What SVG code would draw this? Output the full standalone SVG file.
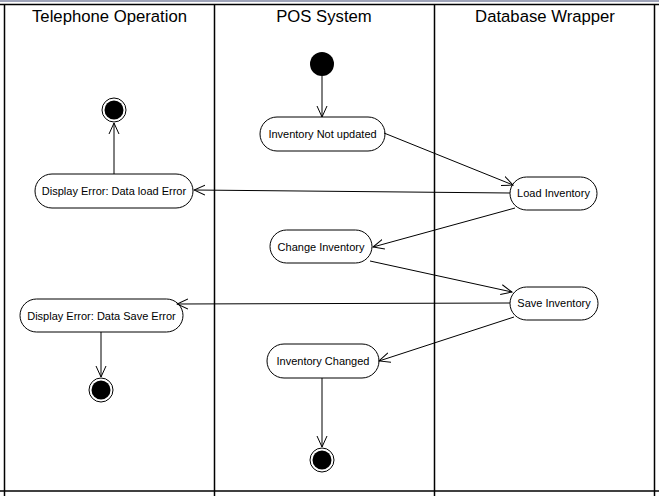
<svg xmlns="http://www.w3.org/2000/svg" width="659" height="496" viewBox="0 0 659 496">
<defs>
<marker id="arr" viewBox="0 0 12 12" refX="11" refY="6" markerWidth="12" markerHeight="12" markerUnits="userSpaceOnUse" orient="auto">
<path d="M0,1 L11,6 L0,11" fill="none" stroke="#000" stroke-width="1"/>
</marker>
<style>
.lane{stroke:#000;stroke-width:1.5;fill:none}
.hdr{font-family:"Liberation Sans",Arial,sans-serif;font-size:16.7px;fill:#000;text-anchor:middle}
.node rect{fill:#fff;stroke:#000;stroke-width:1}
.node text{font-family:"Liberation Sans",Arial,sans-serif;font-size:11px;fill:#000;text-anchor:middle}
.conn line{stroke:#000;stroke-width:1;marker-end:url(#arr)}
.end .o{fill:#fff;stroke:#000;stroke-width:1}
</style>
</defs>
<rect x="0" y="0" width="659" height="496" fill="#fff"/>
<rect x="0" y="0" width="659" height="2" fill="#9ea3b8"/>
<g id="lanes">
<line class="lane" x1="0" y1="4.5" x2="659" y2="4.5"/>
<line class="lane" x1="0" y1="491" x2="659" y2="491"/>
<line class="lane" x1="4.5" y1="4" x2="4.5" y2="496"/>
<line class="lane" x1="214.5" y1="4" x2="214.5" y2="496"/>
<line class="lane" x1="434.5" y1="4" x2="434.5" y2="496"/>
<line class="lane" x1="654.5" y1="4" x2="654.5" y2="496"/>
<text class="hdr" x="109.5" y="22">Telephone Operation</text>
<text class="hdr" x="324" y="22">POS System</text>
<text class="hdr" x="545" y="22">Database Wrapper</text>
</g>
<g id="start">
<circle cx="322" cy="64" r="12" fill="#000"/>
</g>
<g id="n_notupdated" class="node">
<rect x="260" y="117" width="125" height="34" rx="17"/>
<text x="322.5" y="138">Inventory Not updated</text>
</g>
<g id="n_load" class="node">
<rect x="510" y="177" width="87" height="33" rx="16.5"/>
<text x="553.5" y="197">Load Inventory</text>
</g>
<g id="n_loaderr" class="node">
<rect x="35" y="174" width="158" height="34" rx="17"/>
<text x="114" y="195">Display Error: Data load Error</text>
</g>
<g id="end1" class="end">
<circle class="o" cx="114" cy="110" r="12"/>
<circle cx="114" cy="110" r="9.5" fill="#000"/>
</g>
<g id="n_change" class="node">
<rect x="270" y="230" width="102" height="33" rx="16.5"/>
<text x="321" y="251">Change Inventory</text>
</g>
<g id="n_save" class="node">
<rect x="510" y="287" width="88" height="33" rx="16.5"/>
<text x="554" y="307">Save Inventory</text>
</g>
<g id="n_saveerr" class="node">
<rect x="20" y="299" width="163" height="33" rx="16.5"/>
<text x="101.5" y="320">Display Error: Data Save Error</text>
</g>
<g id="end2" class="end">
<circle class="o" cx="101" cy="390" r="12"/>
<circle cx="101" cy="390" r="9.5" fill="#000"/>
</g>
<g id="n_changed" class="node">
<rect x="267" y="344" width="112" height="34" rx="17"/>
<text x="323" y="365">Inventory Changed</text>
</g>
<g id="end3" class="end">
<circle class="o" cx="322" cy="460" r="12"/>
<circle cx="322" cy="460" r="9.5" fill="#000"/>
</g>
<g id="connectors" class="conn">
<line x1="322" y1="76" x2="322" y2="117"/>
<line x1="384" y1="133" x2="513" y2="185"/>
<line x1="510" y1="193" x2="194" y2="190"/>
<line x1="114" y1="174" x2="114" y2="123"/>
<line x1="515" y1="208" x2="373" y2="247"/>
<line x1="370" y1="261" x2="512" y2="292"/>
<line x1="510" y1="303" x2="177" y2="304"/>
<line x1="101" y1="332" x2="101" y2="377"/>
<line x1="514" y1="317" x2="379" y2="361"/>
<line x1="322" y1="378" x2="322" y2="447"/>
</g>
</svg>
